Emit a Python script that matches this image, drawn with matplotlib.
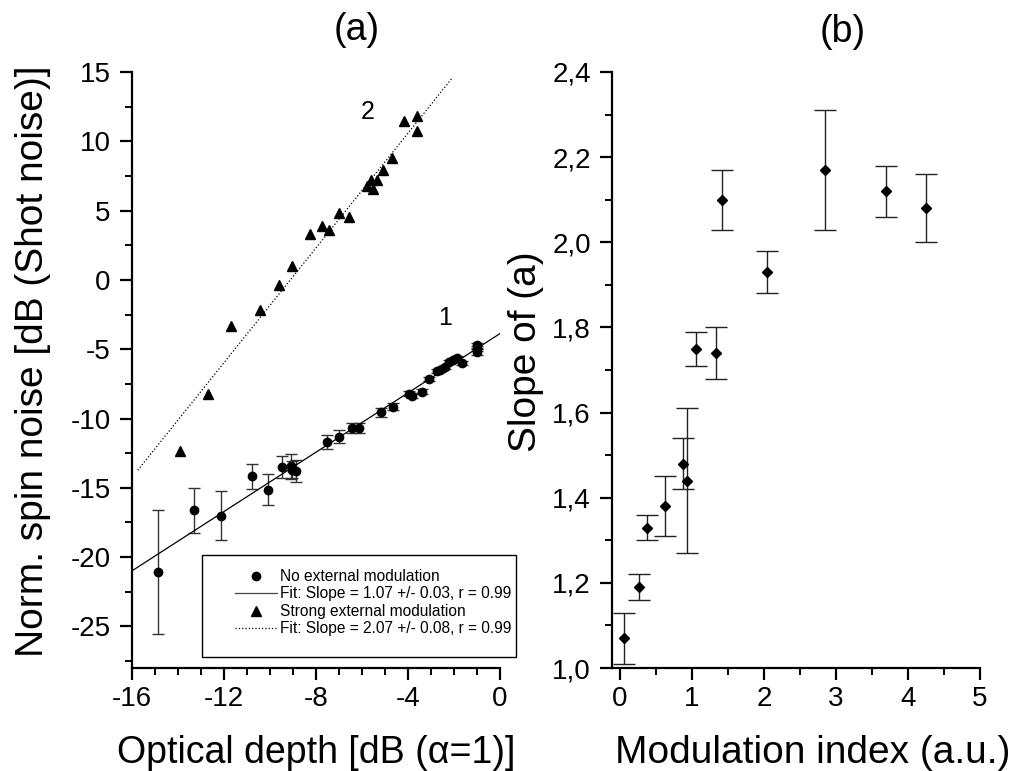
import numpy as np
import matplotlib
matplotlib.use('Agg')
import matplotlib.pyplot as plt
from matplotlib.lines import Line2D
from matplotlib.patches import Rectangle
from matplotlib.ticker import MultipleLocator, FuncFormatter

plt.rcParams['font.family'] = ['Liberation Sans', 'DejaVu Sans']
plt.rcParams['axes.unicode_minus'] = False

# ---- panel (a): no external modulation (circles, with error bars)
x1 = [-14.88, -13.30, -12.14, -10.80, -10.07, -9.46, -9.09, -9.06, -8.88,
      -7.54, -6.99, -6.45, -6.15, -5.19, -4.64, -3.94, -3.83, -3.39, -3.07,
      -2.75, -2.61, -2.39, -2.20, -2.03, -1.86, -1.64, -1.01, -1.01, -1.00]
y1 = [-21.07, -16.63, -17.00, -14.17, -15.13, -13.50, -13.43, -13.69, -13.79,
      -11.70, -11.31, -10.66, -10.66, -9.55, -9.14, -8.20, -8.35, -8.06, -7.12,
      -6.57, -6.52, -6.28, -5.92, -5.75, -5.63, -5.99, -4.72, -5.20, -4.96]
e1 = [4.45, 1.60, 1.75, 0.90, 1.10, 0.77, 0.90, 0.60, 0.80,
      0.50, 0.45, 0.37, 0.37, 0.32, 0.26, 0.20, 0.20, 0.20, 0.15,
      0.15, 0.15, 0.15, 0.15, 0.15, 0.15, 0.15, 0.20, 0.20, 0.20]

# strong external modulation (triangles)
x2 = [-13.91, -12.71, -11.71, -10.43, -9.60, -9.06, -8.27, -7.74, -7.43, -7.01,
      -6.58, -5.80, -5.63, -5.36, -5.54, -5.10, -4.68, -4.17, -3.62, -3.62]
y2 = [-12.35, -8.25, -3.35, -2.19, -0.39, 1.00, 3.34, 3.87, 3.58, 4.86,
      4.54, 6.75, 7.19, 7.19, 6.59, 7.91, 8.82, 11.47, 11.80, 10.74]

# linear fits (slope, intercept, x-range)
fit1 = (1.07, -3.87, (-16.0, 0.0))
fit2 = (2.07, 18.87, (-15.75, -2.10))

# ---- panel (b): slope vs modulation index
mod_idx = [0.06, 0.26, 0.37, 0.62, 0.87, 0.93, 1.05, 1.33, 1.42, 2.04, 2.85, 3.69, 4.25]
slope = [1.07, 1.19, 1.33, 1.38, 1.48, 1.44, 1.75, 1.74, 2.10, 1.93, 2.17, 2.12, 2.08]
slope_err = [0.06, 0.03, 0.03, 0.07, 0.06, 0.17, 0.04, 0.06, 0.07, 0.05, 0.14, 0.06, 0.08]

W, H = 1017, 771
fig = plt.figure(figsize=(W / 100, H / 100), dpi=100)
ax_a = fig.add_axes([132 / W, 1 - 668 / H, 368 / W, 596 / H])
ax_b = fig.add_axes([612 / W, 1 - 668 / H, 368 / W, 596 / H])

for ax in (ax_a, ax_b):
    for s in ('top', 'right'):
        ax.spines[s].set_visible(False)
    for s in ('left', 'bottom'):
        ax.spines[s].set_linewidth(1.6)
    ax.tick_params(which='major', direction='out', length=8.3, width=1.6, labelsize=20)
    ax.tick_params(which='minor', direction='out', length=5, width=1.4)
    ax.tick_params(axis='y', which='major', pad=7)
    ax.tick_params(axis='x', which='major', pad=5)

# (a)
ax_a.errorbar(x1, y1, yerr=e1, fmt='o', color='black', ms=6, elinewidth=1.0,
              ecolor='#333333', capsize=4, capthick=1.0)
ax_a.plot(x2, y2, '^', color='black', ms=6.5)
xs = np.array(fit1[2]); ax_a.plot(xs, fit1[0] * xs + fit1[1], '-', color='black', lw=0.9)
xs = np.array(fit2[2]); ax_a.plot(xs, fit2[0] * xs + fit2[1], ':', color='black', lw=0.9)
ax_a.set_xlim(-16, 0)
ax_a.set_ylim(-28, 15)
ax_a.xaxis.set_major_locator(MultipleLocator(4))
ax_a.xaxis.set_minor_locator(MultipleLocator(1))
ax_a.yaxis.set_major_locator(MultipleLocator(5))
ax_a.yaxis.set_minor_locator(MultipleLocator(2.5))
ax_a.text(-2.39, -2.77, '1', fontsize=18, ha='center', va='center')
ax_a.text(-5.74, 12.09, '2', fontsize=18, ha='center', va='center')
ax_a.set_xlabel('Optical depth [dB (\u03b1=1)]', fontsize=27)
ax_a.set_ylabel('Norm. spin noise [dB (Shot noise)]', fontsize=28)
ax_a.xaxis.set_label_coords(0.5, -0.143); ax_a.xaxis.label.set_va('center')
ax_a.yaxis.set_label_coords(-0.269, 0.515); ax_a.yaxis.label.set_va('center')

# legend box (frame drawn separately, it sticks out past the axis end)
fig.add_artist(Rectangle((202 / W, 1 - 657 / H), 314 / W, 102 / H, transform=fig.transFigure,
                         facecolor='white', edgecolor='black', lw=1.0, zorder=5))
handles = [
    Line2D([], [], ls='none', marker='o', color='black', ms=6),
    Line2D([], [], ls='-', color='#444444', lw=0.9),
    Line2D([], [], ls='none', marker='^', color='black', ms=6.5),
    Line2D([], [], ls=':', color='black', lw=0.9),
]
labels = ['No external modulation', 'Fit: Slope = 1.07 +/- 0.03, r = 0.99',
          'Strong external modulation', 'Fit: Slope = 2.07 +/- 0.08, r = 0.99']
leg = fig.legend(handles, labels, loc='upper left', bbox_to_anchor=(235 / W, 1 - 569 / H),
                 bbox_transform=fig.transFigure, fontsize=11.2, frameon=False,
                 handlelength=2.7, handletextpad=0.2, borderpad=0, borderaxespad=0,
                 labelspacing=0.16)
leg.set_zorder(6)

# (b)
ax_b.errorbar(mod_idx, slope, yerr=slope_err, fmt='D', color='black', ms=5.5,
              elinewidth=1.0, ecolor='#222222', capsize=8, capthick=1.0)
ax_b.set_xlim(-0.11, 5)
ax_b.set_ylim(1.0, 2.4)
ax_b.xaxis.set_major_locator(MultipleLocator(1))
ax_b.xaxis.set_minor_locator(MultipleLocator(0.5))
ax_b.yaxis.set_major_locator(MultipleLocator(0.2))
ax_b.yaxis.set_minor_locator(MultipleLocator(0.1))
ax_b.yaxis.set_major_formatter(FuncFormatter(lambda v, p: f'{v:.1f}'.replace('.', ',')))
ax_b.set_xlabel('Modulation index (a.u.)', fontsize=28)
ax_b.set_ylabel('Slope of (a)', fontsize=28)
ax_b.xaxis.set_label_coords(0.546, -0.143); ax_b.xaxis.label.set_va('center')
ax_b.yaxis.set_label_coords(-0.234, 0.53); ax_b.yaxis.label.set_va('center')

fig.text(357 / W, 1 - 30 / H, '(a)', fontsize=27, ha='center', va='center')
fig.text(843 / W, 1 - 32 / H, '(b)', fontsize=27, ha='center', va='center')

fig.savefig('out.png', dpi=100)
